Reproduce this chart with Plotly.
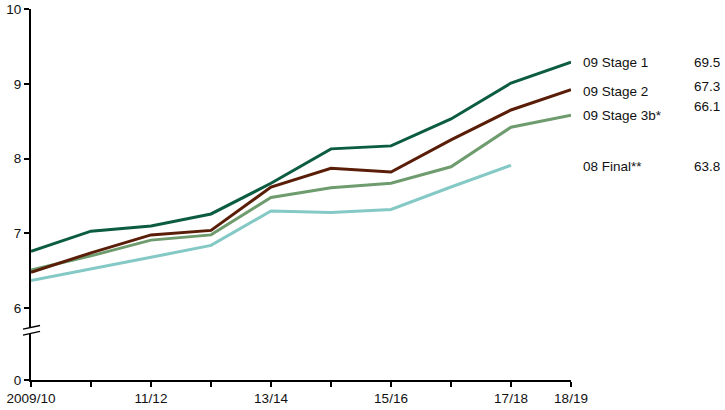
import plotly.graph_objects as go

periods = ["2009/10", "10/11", "11/12", "12/13", "13/14", "14/15", "15/16", "16/17", "17/18", "18/19"]
tick_labels = ["2009/10", "", "11/12", "", "13/14", "", "15/16", "", "17/18", "18/19"]

stage1 = [6.76, 7.03, 7.10, 7.26, 7.67, 8.13, 8.17, 8.53, 9.01, 9.29]
stage2 = [6.48, 6.74, 6.98, 7.04, 7.62, 7.87, 7.82, 8.25, 8.65, 8.92]
stage3b = [6.51, 6.70, 6.91, 6.98, 7.48, 7.61, 7.67, 7.89, 8.42, 8.58]
final08 = [6.37, 6.52, 6.68, 6.84, 7.30, 7.28, 7.32, 7.62, 7.91]

series_names = ["09 Stage 1", "09 Stage 2", "09 Stage 3b*", "08 Final**"]
totals = ["69.5", "67.3", "66.1", "63.8"]
colors = ["#0b5c40", "#5a1e08", "#6e9c6e", "#84c9c5"]

y_tick_vals = [5.04, 6, 7, 8, 9, 10]
y_tick_text = ["0", "6", "7", "8", "9", "10"]

x_idx = list(range(len(periods)))

fig = go.Figure()
order = [3, 2, 1, 0]
data = [stage1, stage2, stage3b, final08]
for i in order:
    vals = data[i]
    fig.add_trace(go.Scatter(
        x=x_idx[:len(vals)], y=vals, mode="lines", name=series_names[i],
        line=dict(color=colors[i], width=3), showlegend=False, hoverinfo="skip",
    ))

label_y = [9.29, 8.90, 8.57, 7.89]
value_y = [9.29, 8.96, 8.70, 7.89]
for i in range(4):
    fig.add_annotation(x=1.0185, y=label_y[i], xref="paper", yref="y", text=series_names[i],
                       showarrow=False, xanchor="left", yanchor="middle",
                       font=dict(size=13.5, color="#111"))
    fig.add_annotation(x=1.279, y=value_y[i], xref="paper", yref="y", text=totals[i],
                       showarrow=False, xanchor="right", yanchor="middle",
                       font=dict(size=13.5, color="#111"))

# axis break marker
fig.add_shape(type="path", xref="paper", yref="y",
              path="M -0.0148,5.72 L 0.0167,5.77 L 0.0167,5.69 L -0.0148,5.64 Z",
              fillcolor="white", line=dict(width=0), layer="above")
fig.add_shape(type="line", xref="paper", yref="y", x0=-0.0148, y0=5.72, x1=0.0167, y1=5.77,
              line=dict(color="black", width=1.5))
fig.add_shape(type="line", xref="paper", yref="y", x0=-0.0148, y0=5.64, x1=0.0167, y1=5.69,
              line=dict(color="black", width=1.5))

fig.update_layout(
    width=725, height=410,
    margin=dict(l=31, r=154, t=9, b=30, autoexpand=False),
    plot_bgcolor="white", paper_bgcolor="white",
    font=dict(family="Liberation Sans, Arial, sans-serif", size=13.5, color="#111"),
    xaxis=dict(range=[0, 9], tickvals=x_idx, ticktext=tick_labels, showgrid=False, zeroline=False,
               showline=True, linecolor="black", linewidth=2, ticks="outside", ticklen=5,
               tickwidth=2, tickcolor="black", tickangle=0, automargin=False),
    yaxis=dict(range=[5.04, 10], tickvals=y_tick_vals, ticktext=y_tick_text, showgrid=False,
               zeroline=False, showline=True, linecolor="black", linewidth=2, ticks="outside",
               ticklen=5, tickwidth=2, tickcolor="black", automargin=False),
)

fig.write_html("out.html", config={"displayModeBar": False},
               post_script="document.body.style.margin='0';document.body.style.overflow='hidden';")
